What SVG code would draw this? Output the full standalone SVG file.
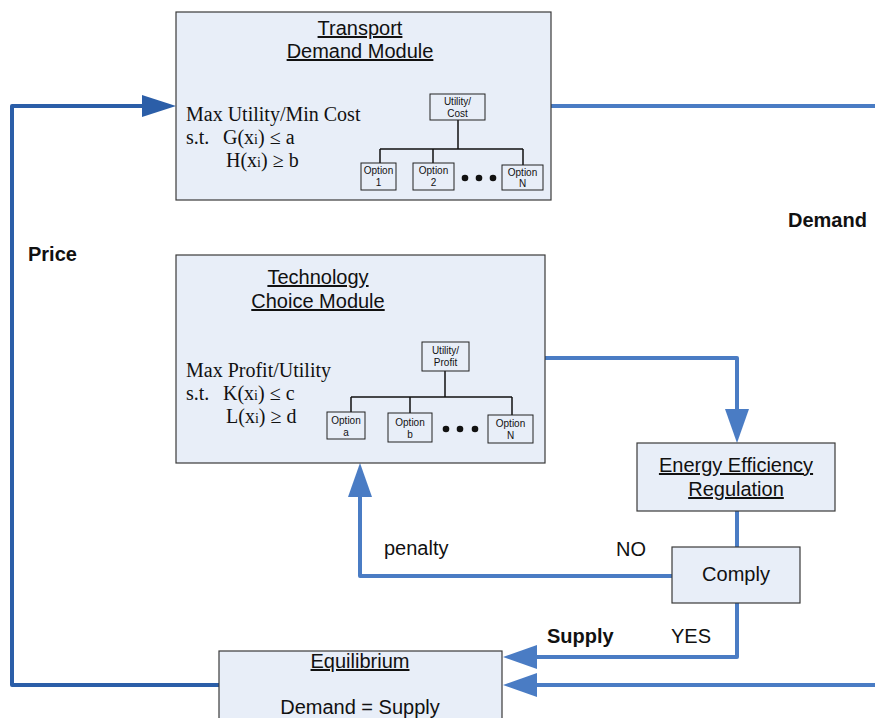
<svg xmlns="http://www.w3.org/2000/svg" width="875" height="718" viewBox="0 0 875 718">
<style>
.box{fill:#e8eef8;stroke:#3a3a3a;stroke-width:1.2}
.sbox{fill:#e8eef8;stroke:#222;stroke-width:1}
.tree{fill:none;stroke:#111;stroke-width:1.5}
.t{font-family:"Liberation Sans",Arial,sans-serif;font-size:20px;fill:#111}
.u{text-decoration:underline}
.b{font-weight:bold}
.s{font-family:"Liberation Serif","Times New Roman",serif;font-size:20px;fill:#111}
.sm{font-family:"Liberation Sans",Arial,sans-serif;font-size:10px;fill:#111;text-anchor:middle}
.c{text-anchor:middle}
.con{fill:none;stroke:#4a7cc4;stroke-width:4;stroke-linejoin:round}
.dark{stroke:#2b5ea8}
.dot{fill:#111}
</style>
<defs>
<marker id="ah" markerUnits="userSpaceOnUse" markerWidth="36" markerHeight="26" refX="0" refY="12" orient="auto" overflow="visible">
<path d="M0,0 L34,12 L0,24 z" fill="#4a7cc4"/>
</marker>
<marker id="ahd" markerUnits="userSpaceOnUse" markerWidth="36" markerHeight="26" refX="0" refY="11" orient="auto" overflow="visible">
<path d="M0,0 L34,11 L0,22 z" fill="#2b5ea8"/>
</marker>
</defs>
<rect width="875" height="718" fill="#fff"/>
<g id="connectors">
<path class="con dark" d="M219,685 H12 V106 H142" marker-end="url(#ahd)"/>
<path class="con" d="M551,106 H875"/>
<path class="con" d="M875,685 H537" marker-end="url(#ah)"/>
<path class="con" d="M545,358 H737 V409" marker-end="url(#ah)"/>
<path class="con" d="M737,511 V547"/>
<path class="con" d="M672,576 H360 V497" marker-end="url(#ah)"/>
<path class="con" d="M737,603 V657 H537" marker-end="url(#ah)"/>
<text class="t b" x="28" y="261">Price</text>
<text class="t b" x="788" y="227">Demand</text>
<text class="t" x="384" y="555">penalty</text>
<text class="t" x="616" y="556">NO</text>
<text class="t b" x="547" y="643">Supply</text>
<text class="t" x="671" y="643">YES</text>
</g>
<g id="transport">
<rect class="box" x="176" y="12" width="375" height="188"/>
<text class="t u c" x="360" y="35">Transport</text>
<text class="t u c" x="360" y="58">Demand Module</text>
<text class="s" x="186" y="121">Max Utility/Min Cost</text>
<text class="s" x="186" y="144">s.t.<tspan x="223">G(x<tspan font-size="14">i</tspan>) ≤ a</tspan></text>
<text class="s" x="226" y="167">H(x<tspan font-size="14">i</tspan>) ≥ b</text>
<path class="tree" d="M458,120 V149 M380,149 H523 M380,149 V163 M433,149 V163 M523,149 V165"/>
<rect class="sbox" x="430" y="94" width="55" height="26"/>
<text class="sm" x="457.5" y="105" font-size="11">Utility/</text>
<text class="sm" x="457.5" y="117" font-size="11">Cost</text>
<rect class="sbox" x="361" y="163" width="35" height="27"/>
<text class="sm" x="378.5" y="174">Option</text>
<text class="sm" x="378.5" y="186">1</text>
<rect class="sbox" x="413" y="163" width="41" height="27"/>
<text class="sm" x="433.5" y="174">Option</text>
<text class="sm" x="433.5" y="186">2</text>
<circle class="dot" cx="465" cy="178" r="3.3"/>
<circle class="dot" cx="479" cy="178" r="3.3"/>
<circle class="dot" cx="493" cy="178" r="3.3"/>
<rect class="sbox" x="502" y="165" width="41" height="25"/>
<text class="sm" x="522.5" y="176">Option</text>
<text class="sm" x="522.5" y="187">N</text>
</g>
<g id="technology">
<rect class="box" x="176" y="255" width="369" height="208"/>
<text class="t u c" x="318" y="284">Technology</text>
<text class="t u c" x="318" y="308">Choice Module</text>
<text class="s" x="186" y="377">Max Profit/Utility</text>
<text class="s" x="186" y="400">s.t.<tspan x="223">K(x<tspan font-size="14">i</tspan>) ≤ c</tspan></text>
<text class="s" x="226" y="423">L(x<tspan font-size="14">i</tspan>) ≥ d</text>
<path class="tree" d="M445,371 V397 M351,397 H512 M351,397 V412 M410,397 V413 M512,397 V415"/>
<rect class="sbox" x="422" y="342" width="47" height="29"/>
<text class="sm" x="445.5" y="354" font-size="10.5">Utility/</text>
<text class="sm" x="445.5" y="366" font-size="10.5">Profit</text>
<rect class="sbox" x="327" y="412" width="38" height="27"/>
<text class="sm" x="346" y="424" font-size="11">Option</text>
<text class="sm" x="346" y="436" font-size="10">a</text>
<rect class="sbox" x="388" y="413" width="44" height="29"/>
<text class="sm" x="410" y="426" font-size="11">Option</text>
<text class="sm" x="410" y="438" font-size="10">b</text>
<circle class="dot" cx="446" cy="429" r="3.3"/>
<circle class="dot" cx="460" cy="429" r="3.3"/>
<circle class="dot" cx="475" cy="429" r="3.3"/>
<rect class="sbox" x="488" y="415" width="45" height="28"/>
<text class="sm" x="510.5" y="427" font-size="11">Option</text>
<text class="sm" x="510.5" y="439" font-size="8">N</text>
</g>
<g id="eer">
<rect class="box" x="637" y="443" width="198" height="68"/>
<text class="t u c" x="736" y="472">Energy Efficiency</text>
<text class="t u c" x="736" y="496">Regulation</text>
</g>
<g id="comply">
<rect class="box" x="672" y="547" width="128" height="56"/>
<text class="t c" x="736" y="581">Comply</text>
</g>
<g id="equilibrium">
<rect class="box" x="219" y="651" width="283" height="80"/>
<text class="t u c" x="360" y="668">Equilibrium</text>
<text class="t c" x="360" y="714">Demand = Supply</text>
</g>
</svg>
